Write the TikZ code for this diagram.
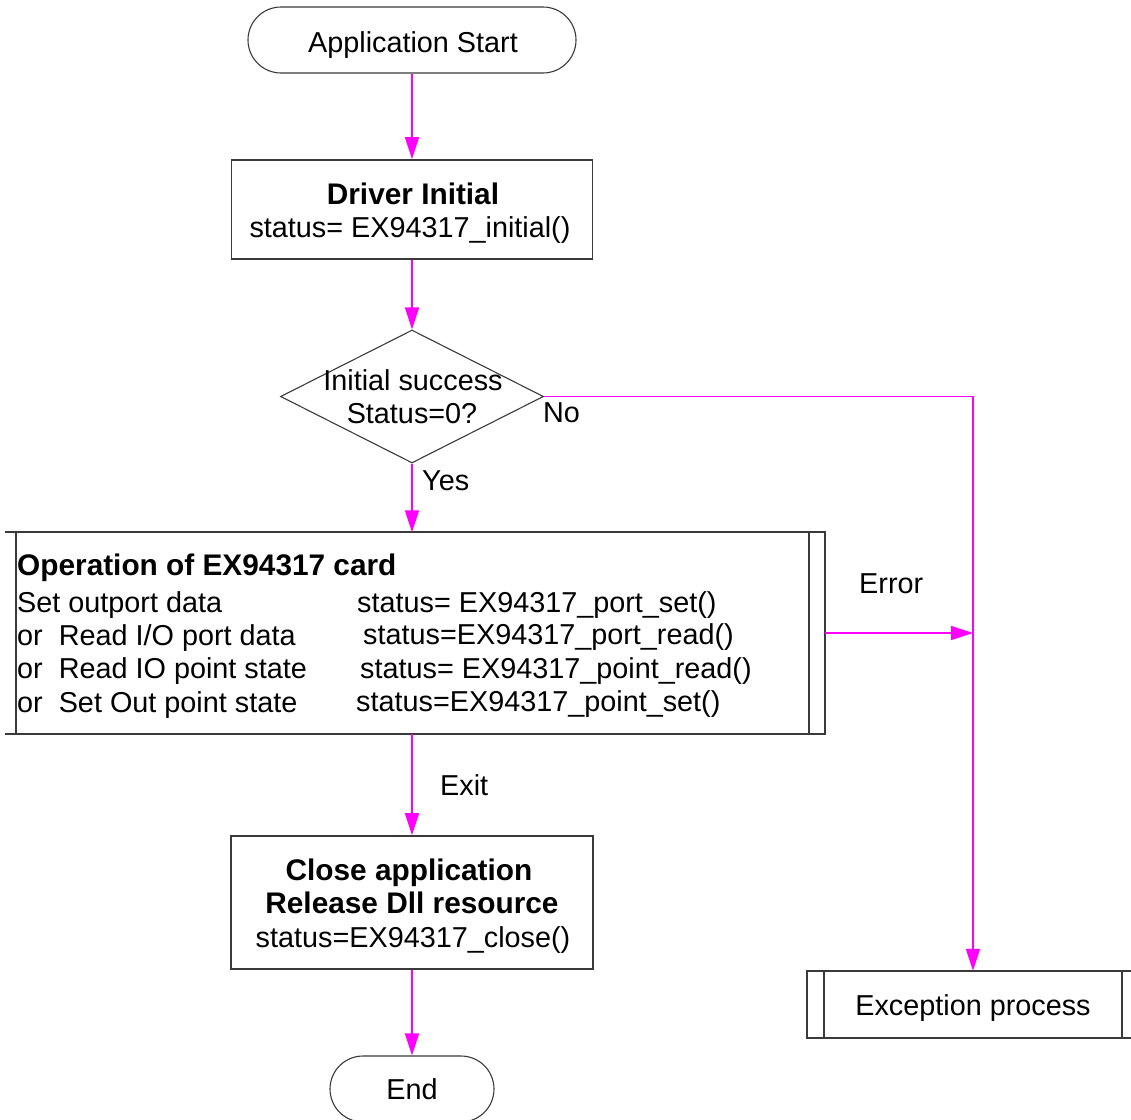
\documentclass[tikz,border=0pt]{standalone}
\usepackage{fontspec}
\setmainfont{Liberation Sans}
\usetikzlibrary{arrows.meta,shapes.geometric,calc}
\definecolor{mag}{HTML}{FF00FF}
\definecolor{edgec}{HTML}{3A3A3A}
\newcommand\fsz{\fontsize{28.8bp}{34bp}\selectfont}
\newcommand\bfsz{\fontsize{29.8bp}{34bp}\selectfont\bfseries}
\begin{document}
\begin{tikzpicture}[x=1bp,y=-1bp,
  box/.style={draw=edgec,line width=1.7bp,inner sep=0},
  plain/.style={draw=none,inner sep=0},
  term/.style={draw=edgec,line width=1.1bp,rounded corners=33bp,inner sep=0,minimum height=66bp},
  flow/.style={draw=mag,line width=1.6bp,-{Triangle[length=22bp,width=14bp]}},
  txt/.style={anchor=base,inner sep=0,font=\fsz},
  btxt/.style={anchor=base,inner sep=0,font=\bfsz},
  lbl/.style={anchor=base west,inner sep=0,font=\fsz},
  blbl/.style={anchor=base west,inner sep=0,font=\bfsz}]
\useasboundingbox (0,0) rectangle (1131,1120);
\fill[white] (0,0) rectangle (1131,1120);

% shapes
\node[term,minimum width=328bp] (start) at (412,40) {};
\node[box,minimum width=361bp,minimum height=99bp] (drv) at (412,209.5) {};
\node[diamond,draw=edgec,line width=1.1bp,inner sep=0,minimum width=263bp,minimum height=133bp] (dec) at (412,396.5) {};
\node[plain,minimum width=820bp,minimum height=201bp] (op) at (415,633) {};
\node[box,minimum width=362bp,minimum height=133bp] (close) at (412,902.5) {};
\node[term,minimum width=164bp] (end) at (412,1089) {};
\node[plain,minimum width=331bp,minimum height=67bp] (exc) at (973,1004.5) {};

% predefined-process boxes
\draw[edgec,line width=1.7bp] (op.north west) -- (op.north east) -- (op.south east) -- (op.south west);
\draw[edgec,line width=1.7bp] ([xshift=11bp]op.north west) -- ([xshift=11bp]op.south west);
\draw[edgec,line width=1.7bp] ([xshift=-16bp]op.north east) -- ([xshift=-16bp]op.south east);
\draw[edgec,line width=1.7bp] (exc.north west) rectangle (exc.south east);
\draw[edgec,line width=1.7bp] ([xshift=17bp]exc.north west) -- ([xshift=17bp]exc.south west);
\draw[edgec,line width=1.7bp] ([xshift=-17bp]exc.north east) -- ([xshift=-17bp]exc.south east);

% texts
\node[txt] (tstart) at (413,52) {Application Start};
\node[btxt] (tdrv1) at (413,204) {Driver Initial};
\node[txt] (tdrv2) at (410,237) {status= EX94317\_initial()};
\node[txt] (tdec1) at (413,390) {Initial success};
\node[txt] (tdec2) at (412,423) {Status=0?};

\node[blbl] (top0) at (17,575) {Operation of EX94317 card};
\node[lbl] (top1) at (17,612) {Set outport data};
\node[lbl] (top2) at (17,645) {or\ \ Read I/O port data};
\node[lbl] (top3) at (17,678) {or\ \ Read IO point state};
\node[lbl] (top4) at (17,712) {or\ \ Set Out point state};
\node[lbl] (tst1) at (357,612) {status= EX94317\_port\_set()};
\node[lbl] (tst2) at (363,644) {status=EX94317\_port\_read()};
\node[lbl] (tst3) at (360,678) {status= EX94317\_point\_read()};
\node[lbl] (tst4) at (356,711) {status=EX94317\_point\_set()};

\node[btxt] (tcl1) at (409,880) {Close application};
\node[btxt] (tcl2) at (412,913) {Release Dll resource};
\node[txt] (tcl3) at (413,947) {status=EX94317\_close()};
\node[txt] (tend) at (412,1099) {End};
\node[txt] (texc) at (973,1015) {Exception process};

% connectors
\draw[flow] (start.south) -- (drv.north);
\draw[flow] (drv.south) -- (dec.north);
\draw[flow] (dec.south) -- (dec.south |- op.north);
\draw[flow] (dec.south |- op.south) -- (close.north);
\draw[flow] (close.south) -- (end.north);
\draw[flow] (dec.east) -- (dec.east -| exc.north) -- (exc.north);
\draw[flow] (op.east) -- (op.east -| exc.north);

% connector labels
\node[lbl] (lyes) at (422,490) {Yes};
\node[lbl] (lno) at (543,422) {No};
\node[lbl] (lerr) at (859,593) {Error};
\node[lbl] (lexit) at (440,795) {Exit};
\end{tikzpicture}
\end{document}
